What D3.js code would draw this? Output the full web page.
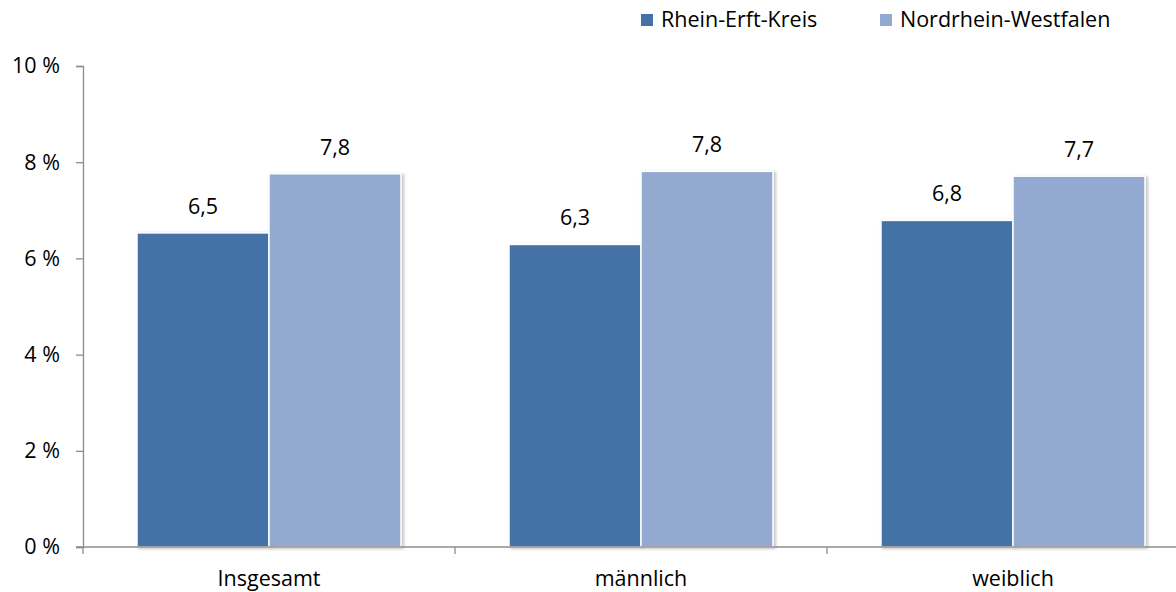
<!DOCTYPE html>
<html>
<head>
<meta charset="utf-8">
<script src="https://cdn.jsdelivr.net/npm/d3@7"></script>
<style>
  body { margin: 0; background: #fff; }
  svg { display: block; font-family: "Open Sans", sans-serif; }
</style>
</head>
<body>
<svg width="1176" height="592"></svg>
<script>
// Daten
const categories = ["Insgesamt", "männlich", "weiblich"];
const seriesNames = ["Rhein-Erft-Kreis", "Nordrhein-Westfalen"];
const rheinErft = [6.53, 6.29, 6.79];
const nrw = [7.76, 7.81, 7.71];
const yTicks = [0, 2, 4, 6, 8, 10];
const colors = ["#4472a6", "#94a9d0"];

const width = 1176;
const height = 592;
const fontSize = 21.5;

const svg = d3.select("svg");

const defs = svg.append("defs");
const shadow = defs.append("filter").attr("id", "shadow")
    .attr("x", "-10%").attr("y", "-10%").attr("width", "130%").attr("height", "130%");
shadow.append("feDropShadow")
    .attr("dx", 2).attr("dy", 1).attr("stdDeviation", 1.5)
    .attr("flood-color", "#000").attr("flood-opacity", 0.25);

// Skalen
const y = d3.scaleLinear().domain([0, 10]).range([547, 66]);
const x0 = d3.scaleBand().domain(categories).range([83, 1199]).padding(0);
const x1 = d3.scaleBand().domain(seriesNames).range([54, x0.bandwidth() - 54]).padding(0);

const axisColor = "#8c8c8c";

// y-Achse
const yAxis = svg.append("g")
    .attr("transform", "translate(83,0)")
    .call(d3.axisLeft(y).tickValues(yTicks).tickSize(7).tickPadding(16)
        .tickFormat(d => d + " %"));
yAxis.select(".domain").attr("stroke", axisColor).attr("stroke-width", 1.3);
yAxis.selectAll(".tick line").attr("stroke", axisColor).attr("stroke-width", 1.3);
yAxis.selectAll("text").attr("font-size", fontSize).attr("fill", "#000")
    .attr("font-family", "Open Sans, sans-serif");

// Balken
const groups = svg.append("g")
    .selectAll("g")
    .data(categories)
    .join("g")
    .attr("transform", d => `translate(${x0(d)},0)`);

const rows = categories.map((c, i) => [
    { series: seriesNames[0], value: rheinErft[i], color: colors[0] },
    { series: seriesNames[1], value: nrw[i], color: colors[1] }
]);

groups.selectAll("rect")
    .data((d, i) => rows[i])
    .join("rect")
    .attr("x", d => x1(d.series))
    .attr("y", d => y(d.value))
    .attr("width", x1.bandwidth())
    .attr("height", d => y(0) - y(d.value))
    .attr("fill", d => d.color)
    .attr("stroke", "#fff")
    .attr("stroke-width", 1.5)
    .attr("filter", "url(#shadow)");

groups.selectAll("text.val")
    .data((d, i) => rows[i])
    .join("text")
    .attr("class", "val")
    .attr("x", d => x1(d.series) + x1.bandwidth() / 2)
    .attr("y", d => y(d.value) - 19)
    .attr("text-anchor", "middle")
    .attr("font-size", fontSize)
    .text(d => d3.format(".1f")(d.value).replace(".", ","));

// x-Achse
const xAxis = svg.append("g")
    .attr("transform", "translate(0,547)");
xAxis.append("line")
    .attr("x1", 76).attr("x2", width)
    .attr("stroke", axisColor).attr("stroke-width", 1.3);
xAxis.selectAll("line.tick")
    .data(categories.concat(["end"]))
    .join("line")
    .attr("class", "tick")
    .attr("x1", (d, i) => i < categories.length ? x0(d) : x0.range()[1])
    .attr("x2", (d, i) => i < categories.length ? x0(d) : x0.range()[1])
    .attr("y1", 0).attr("y2", 7)
    .attr("stroke", axisColor).attr("stroke-width", 1.3);
xAxis.selectAll("text")
    .data(categories)
    .join("text")
    .attr("x", d => x0(d) + x0.bandwidth() / 2)
    .attr("y", 39)
    .attr("text-anchor", "middle")
    .attr("font-size", fontSize)
    .text(d => d);

// Legende
const legendX = [641, 880];
const legend = svg.append("g")
    .selectAll("g")
    .data(seriesNames)
    .join("g")
    .attr("transform", (d, i) => `translate(${legendX[i]},14)`);
legend.append("rect")
    .attr("width", 12).attr("height", 12)
    .attr("fill", (d, i) => colors[i]);
legend.append("text")
    .attr("x", 20).attr("y", 13)
    .attr("font-size", fontSize)
    .text(d => d);
</script>
</body>
</html>
